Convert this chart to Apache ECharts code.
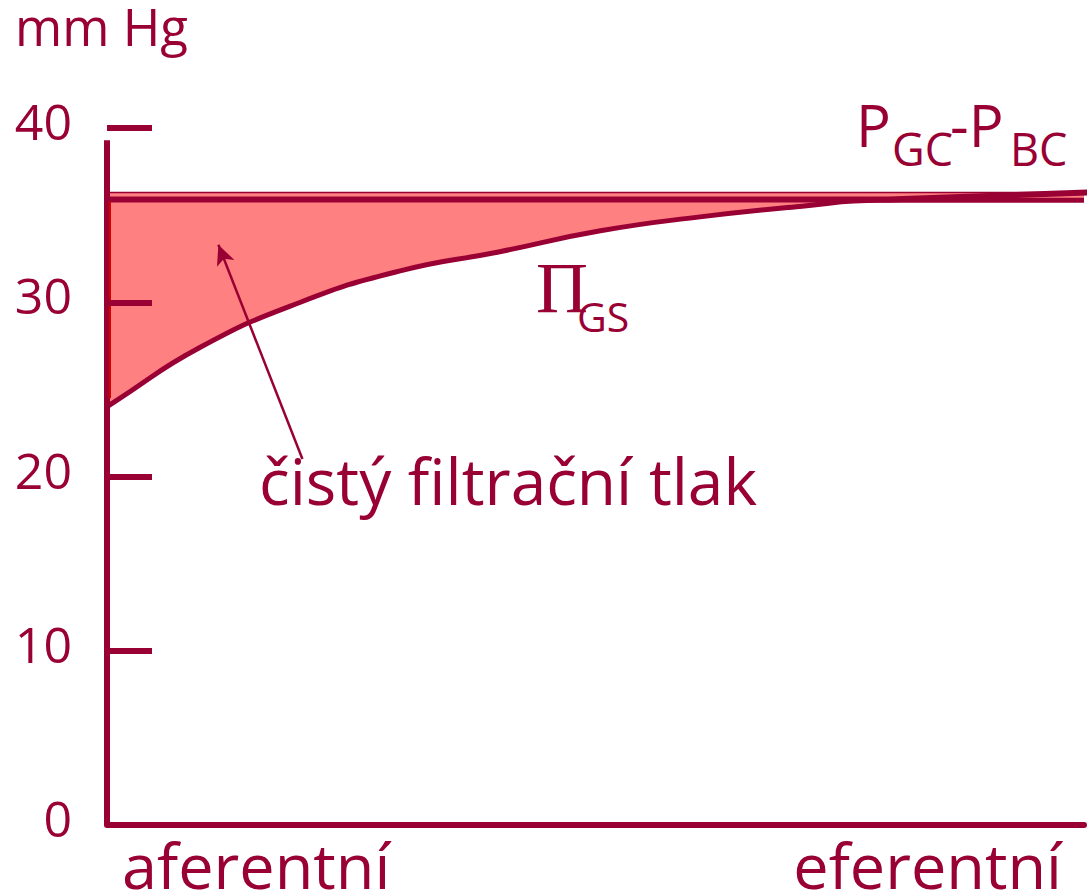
<!DOCTYPE html>
<html>
<head>
<meta charset="utf-8">
<script src="https://cdn.jsdelivr.net/npm/echarts@6/dist/echarts.min.js"></script>
<style>
	html, body { margin: 0; padding: 0; background: #fff; }
	#chart { width: 1089px; height: 896px; }
</style>
</head>
<body>
<div id="chart"></div>
<script>
var crimson = '#990033';
var salmon = '#ff8080';

// osa x: 0 = aferentní konec, 100 = eferentní konec
var xLabels = ['aferentní', 'eferentní'];
var yTicks = [0, 10, 20, 30, 40];

// onkotický tlak v kapiláře (Π GS)
var piX = [0, 0.8, 9.5, 19.8, 30.0, 40.2, 50.5, 60.7, 70.9, 79.1, 100];
var piY = [24.0, 24.3, 27.4, 30.0, 31.8, 32.9, 34.1, 34.9, 35.5, 35.85, 35.85];

// hydrostatický rozdíl P GC - P BC
var pX = [0, 80, 100.5];
var pY = [35.9, 35.9, 36.3];

// horní okraj plochy čistého filtračního tlaku
var fillX = [0, 100];
var fillY = [36.3, 36.3];

// šipka k popisku
var arrowFrom = [20.0, 21.0];
var arrowTo = [11.4, 33.3];

function pairs(xs, ys) {
	return xs.map(function(x, i) { return [x, ys[i]]; });
}

var myChart = echarts.init(document.getElementById('chart'), null, { renderer: 'svg' });

var option = {
	animation : false,
	textStyle : { fontFamily : 'Open Sans' },
	grid : {
		left : 107,
		right : 5,
		top : 128,
		bottom : 71
	},
	title : {
		text : 'mm Hg',
		left : 15,
		top : 0,
		padding : 0,
		textStyle : { fontFamily : 'Open Sans', fontSize : 51, fontWeight : 'normal', color : crimson }
	},
	xAxis : {
		type : 'value',
		min : 0,
		max : 100,
		interval : 100,
		z : 10,
		axisLine : { lineStyle : { color : crimson, width : 6 } },
		axisTick : { show : false },
		splitLine : { show : false },
		axisLabel : {
			color : crimson,
			fontSize : 63,
			fontFamily : 'Open Sans',
			margin : 8,
			alignMinLabel : 'left',
			alignMaxLabel : 'right',
			padding : [0, 22, 0, 15],
			formatter : function(v) {
				if (v === 0) return xLabels[0];
				if (v === 100) return xLabels[1];
				return '';
			}
		}
	},
	yAxis : {
		type : 'value',
		min : yTicks[0],
		max : yTicks[yTicks.length - 1],
		interval : 10,
		z : 10,
		axisLine : { show : false },
		axisTick : {
			show : true,
			inside : true,
			length : 45,
			lineStyle : { color : crimson, width : 6 }
		},
		splitLine : { show : false },
		axisLabel : {
			color : crimson,
			fontSize : 50,
			fontFamily : 'Open Sans',
			margin : 35,
			verticalAlign : 'bottom',
			lineHeight : 14
		}
	},
	graphic : [
		{ type : 'text', z : 100, left : 856, top : 95, style : { text : 'P', fontFamily : 'Open Sans', fontSize : 58, fill : crimson } },
		{ type : 'text', z : 100, left : 892, top : 126, style : { text : 'GC', fontFamily : 'Open Sans', fontSize : 45, fill : crimson } },
		{ type : 'text', z : 100, left : 950, top : 95, style : { text : '-P', fontFamily : 'Open Sans', fontSize : 58, fill : crimson } },
		{ type : 'text', z : 100, left : 1010, top : 126, style : { text : 'BC', fontFamily : 'Open Sans', fontSize : 45, fill : crimson } },
		{ type : 'text', z : 100, left : 536, top : 252, style : { text : 'Π', fontFamily : 'Liberation Serif', fontSize : 72, fill : crimson } },
		{ type : 'text', z : 100, left : 577, top : 295, style : { text : 'GS', fontFamily : 'Open Sans', fontSize : 41, fill : crimson } },
		{ type : 'text', z : 100, left : 259, top : 448, style : { text : 'čistý filtrační tlak', fontFamily : 'Open Sans', fontSize : 64, fill : crimson } }
	],
	series : [ {
		// plocha čistého filtračního tlaku (shora)
		name : 'filtrace',
		type : 'line',
		showSymbol : false,
		lineStyle : { color : crimson, width : 1.5 },
		areaStyle : { color : salmon, opacity : 1 },
		data : pairs(fillX, fillY)
	}, {
		// pod křivkou Π GS je bílo
		name : 'podklad',
		type : 'line',
		smooth : 0.5,
		showSymbol : false,
		lineStyle : { opacity : 0 },
		areaStyle : { color : '#ffffff', opacity : 1 },
		data : pairs(piX, piY)
	}, {
		name : 'PGC-PBC',
		type : 'line',
		clip : false,
		showSymbol : false,
		lineStyle : { color : crimson, width : 6 },
		data : pairs(pX, pY)
	}, {
		name : 'PiGS',
		type : 'line',
		smooth : 0.5,
		showSymbol : false,
		lineStyle : { color : crimson, width : 5 },
		data : pairs(piX, piY)
	}, {
		// osa y, červený okraj a šipka
		name : 'osa',
		type : 'line',
		z : 20,
		showSymbol : false,
		data : [],
		markLine : {
			silent : true,
			symbol : ['none', 'none'],
			label : { show : false },
			lineStyle : { type : 'solid' },
			data : [
				[ { coord : [0, 0], lineStyle : { color : crimson, width : 6, type : 'solid' } }, { coord : [0, 39.3] } ],
				[ { coord : [0.3, 24.5], lineStyle : { color : '#d40000', width : 2, type : 'solid' } }, { coord : [0.3, 35.8] } ],
				[ { coord : [0, 30], lineStyle : { color : '#d40000', width : 6, type : 'solid' } }, { coord : [4.6, 30] } ],
				[ { coord : arrowFrom, symbol : 'none', lineStyle : { color : crimson, width : 2.5, type : 'solid' } },
				  { coord : arrowTo, symbol : 'arrow', symbolSize : [14, 20] } ]
			]
		}
	} ]
};

myChart.setOption(option);
</script>
</body>
</html>
